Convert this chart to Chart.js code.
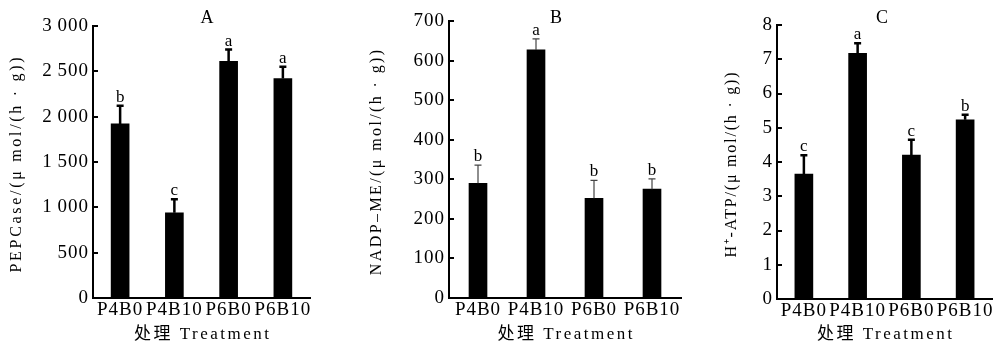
<!DOCTYPE html>
<html>
<head>
<meta charset="utf-8">
<script src="https://cdn.jsdelivr.net/npm/chart.js@4.4.0/dist/chart.umd.min.js"></script>
<style>
  html, body { margin: 0; padding: 0; background: #fff; overflow: hidden; }
  #wrap { position: relative; width: 1007px; height: 347px; }
  canvas { position: absolute; top: 0; }
</style>
</head>
<body>
<div id="wrap">
  <canvas id="chart-a" width="340" height="347" style="left:0"></canvas>
  <canvas id="chart-b" width="360" height="347" style="left:340px"></canvas>
  <canvas id="chart-c" width="307" height="347" style="left:700px"></canvas>
</div>
<script>
const treatments = ['P4B0', 'P4B10', 'P6B0', 'P6B10']

// A: PEPCase
const pepcase = [1920, 940, 2610, 2420]
const pepcaseErr = [200, 150, 130, 130]
const pepcaseSig = ['b', 'c', 'a', 'a']
const pepcaseTicks = ['0', '500', '1\u2009000', '1\u2009500', '2\u2009000', '2\u2009500', '3\u2009000']

// B: NADP-ME
const nadpMe = [290, 627, 252, 275]
const nadpMeErr = [46, 28, 45, 26]
const nadpMeSig = ['b', 'a', 'b', 'b']
const nadpMeTicks = ['0', '100', '200', '300', '400', '500', '600', '700']

// C: H+-ATP
const hAtp = [3.65, 7.17, 4.2, 5.23]
const hAtpErr = [0.55, 0.3, 0.45, 0.15]
const hAtpSig = ['c', 'a', 'c', 'b']
const hAtpTicks = ['0', '1', '2', '3', '4', '5', '6', '7', '8']

const serif = '"Liberation Serif", "Noto Sans CJK SC"'

function spacedText(ctx, text, x, y, spacing) {
  ctx.letterSpacing = spacing + 'px'
  ctx.fillText(text, x + spacing / 2, y)
}

const decorations = {
  id: 'decorations',
  beforeDraw(chart) {
    // tick labels in the figure are a little spread out
    chart.ctx.letterSpacing = '1px'
  },
  afterDatasetsDraw(chart, args, opts) {
    const { ctx, scales: { y } } = chart
    const ds = chart.data.datasets[0]
    const meta = chart.getDatasetMeta(0)
    ctx.save()
    ctx.strokeStyle = opts.errColor
    ctx.lineWidth = opts.errWidth
    ctx.fillStyle = '#000'
    ctx.font = '17px ' + serif
    ctx.textAlign = 'center'
    ctx.textBaseline = 'alphabetic'
    meta.data.forEach((bar, i) => {
      const top = y.getPixelForValue(ds.data[i] + opts.errors[i])
      ctx.beginPath()
      ctx.moveTo(bar.x, bar.y)
      ctx.lineTo(bar.x, top)
      ctx.moveTo(bar.x - 3.5, top)
      ctx.lineTo(bar.x + 3.5, top)
      ctx.stroke()
      spacedText(ctx, opts.letters[i], bar.x, top - 4, 0)
    })
    ctx.restore()
  },
  afterDraw(chart, args, opts) {
    const { ctx, chartArea } = chart
    ctx.save()
    ctx.fillStyle = '#000'
    ctx.textAlign = 'center'
    ctx.textBaseline = 'middle'

    ctx.font = '18px ' + serif
    spacedText(ctx, opts.title, opts.titleX, 18, 0)

    ctx.font = '17px ' + serif
    spacedText(ctx, '处理 Treatment', (chartArea.left + chartArea.right) / 2, 335, 2.5)

    ctx.translate(opts.yTitleX, (chartArea.top + chartArea.bottom) / 2 + 3)
    ctx.rotate(-Math.PI / 2)
    ctx.font = '16px ' + serif
    spacedText(ctx, opts.yTitle, 0, 0, opts.yTitleSpacing)
    ctx.restore()
  }
}

function makeChart(id, panel) {
  const ctx = document.getElementById(id).getContext('2d')
  return new Chart(ctx, {
    type: 'bar',
    data: {
      labels: treatments,
      datasets: [{
        data: panel.values,
        backgroundColor: '#000',
        borderWidth: 0,
        barThickness: 18
      }]
    },
    options: {
      responsive: false,
      animation: false,
      devicePixelRatio: 1,
      layout: { padding: panel.padding },
      plugins: {
        legend: { display: false },
        tooltip: { enabled: false },
        decorations: {
          errors: panel.errors,
          letters: panel.letters,
          errColor: panel.errColor,
          errWidth: panel.errWidth,
          title: panel.title,
          titleX: panel.titleX,
          yTitle: panel.yTitle,
          yTitleX: panel.yTitleX,
          yTitleSpacing: panel.yTitleSpacing
        }
      },
      scales: {
        x: {
          grid: { display: true, drawOnChartArea: false, drawTicks: false },
          border: { display: true, color: '#000', width: 2 },
          ticks: {
            color: '#000',
            font: { family: serif, size: 19 },
            autoSkip: false,
            maxRotation: 0,
            minRotation: 0,
            padding: 1
          },
          afterFit(scale) {
            scale.height = panel.xHeight
            scale.paddingLeft = 0
            scale.paddingRight = 0
          }
        },
        y: {
          min: 0,
          max: panel.max,
          grid: { drawOnChartArea: false, drawTicks: true, tickLength: -5, color: '#000', lineWidth: 2 },
          border: { display: true, color: '#000', width: 2 },
          ticks: {
            stepSize: panel.step,
            color: '#000',
            font: { family: serif, size: 19 },
            padding: 9,
            callback: (v, i) => panel.ticks[i]
          },
          afterFit(scale) {
            scale.width = panel.yWidth
            scale.paddingTop = 0
            scale.paddingBottom = 0
          }
        }
      }
    },
    plugins: [decorations]
  })
}

makeChart('chart-a', {
  values: pepcase, errors: pepcaseErr, letters: pepcaseSig, ticks: pepcaseTicks,
  max: 3000, step: 500,
  padding: { left: 0, top: 26, right: 30, bottom: 0 }, yWidth: 93, xHeight: 49,
  errColor: '#000', errWidth: 2.5,
  title: 'A', titleX: 207,
  yTitle: 'PEPCase/(μ mol/(h · g))', yTitleX: 17, yTitleSpacing: 2.7
})

makeChart('chart-b', {
  values: nadpMe, errors: nadpMeErr, letters: nadpMeSig, ticks: nadpMeTicks,
  max: 700, step: 100,
  padding: { left: 0, top: 21, right: 19, bottom: 0 }, yWidth: 109, xHeight: 49,
  errColor: '#444', errWidth: 1.2,
  title: 'B', titleX: 216,
  yTitle: 'NADP–ME/(μ mol/(h · g))', yTitleX: 37, yTitleSpacing: 2.4
})

makeChart('chart-c', {
  values: hAtp, errors: hAtpErr, letters: hAtpSig, ticks: hAtpTicks,
  max: 8, step: 1,
  padding: { left: 0, top: 25, right: 15, bottom: 0 }, yWidth: 77, xHeight: 48,
  errColor: '#000', errWidth: 2.5,
  title: 'C', titleX: 182,
  yTitle: 'H⁺-ATP/(μ mol/(h · g))', yTitleX: 32, yTitleSpacing: 1.8
})
</script>
</body>
</html>
